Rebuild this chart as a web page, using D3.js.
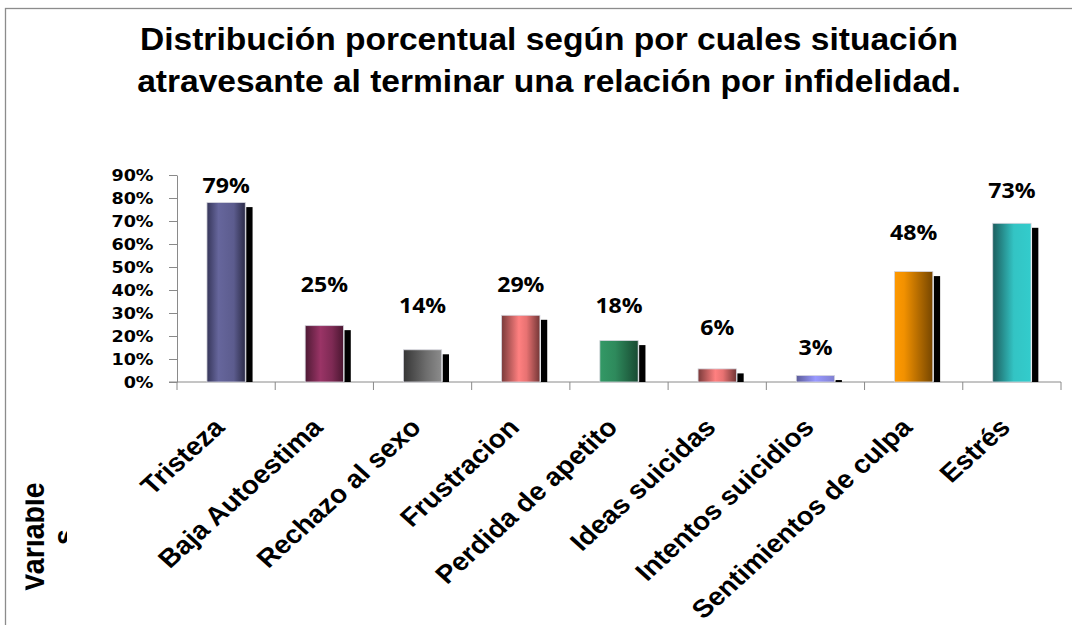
<!DOCTYPE html>
<html>
<head>
<meta charset="utf-8">
<script src="https://cdn.jsdelivr.net/npm/d3@7"></script>
<style>
  html, body { margin: 0; padding: 0; background: #fff; }
  svg { display: block; }
</style>
</head>
<body>
<svg id="chart" width="1072" height="625"></svg>
<script>
// ---- data ----
const categories = ["Tristeza", "Baja Autoestima", "Rechazo al sexo", "Frustracion",
  "Perdida de apetito", "Ideas suicidas", "Intentos suicidios", "Sentimientos de culpa", "Estrés"];
const values = [0.78, 0.245, 0.14, 0.29, 0.18, 0.057, 0.028, 0.48, 0.69];
const valueLabels = ["79%", "25%", "14%", "29%", "18%", "6%", "3%", "48%", "73%"];
const yTicks = [0, 0.1, 0.2, 0.3, 0.4, 0.5, 0.6, 0.7, 0.8, 0.9];
const titleLines = ["Distribución porcentual según por cuales situación",
  "atravesante al terminar una relación por infidelidad."];
const axisTitleLines = ["Variable", "s"];

// ---- layout / styles ----
const labelGaps = [10, 34, 37, 23, 28, 34, 21, 32, 25];   // px between bar top and label baseline
const stretch = 1.1;                                      // horizontal stretch of all texts
const barGradients = [
  [["0", "#36365a"], ["0.3", "#66669c"], ["0.7", "#5c5c8e"], ["1", "#2c2c48"]],
  [["0", "#4e1a34"], ["0.4", "#9a3466"], ["0.7", "#7e2a54"], ["1", "#4a1630"]],
  [["0", "#363636"], ["0.6", "#6e6e6e"], ["1", "#8c8c8c"]],
  [["0", "#7a3a3a"], ["0.45", "#ff8080"], ["0.65", "#e87272"], ["1", "#733636"]],
  [["0", "#339966"], ["0.4", "#2e8a5c"], ["1", "#184a32"]],
  [["0", "#7a3a3a"], ["0.45", "#ff8080"], ["0.65", "#e87272"], ["1", "#733636"]],
  [["0", "#5c5c99"], ["0.5", "#9999ff"], ["1", "#8080d0"]],
  [["0", "#ff9900"], ["0.25", "#f29100"], ["1", "#764600"]],
  [["0", "#1c5e5e"], ["0.55", "#33c4c4"], ["1", "#33cccc"]]
];

const svg = d3.select("#chart");
const defs = svg.append("defs");

barGradients.forEach((stops, i) => {
  const g = defs.append("linearGradient").attr("id", "g" + i)
    .attr("x1", "0").attr("y1", "0").attr("x2", "1").attr("y2", "0");
  stops.forEach(s => g.append("stop").attr("offset", s[0]).attr("stop-color", s[1]));
});

// outer border (open on right/bottom as in the picture)
svg.append("rect").attr("x", 5.5).attr("y", 8.5).attr("width", 1100).attr("height", 700)
  .attr("fill", "none").attr("stroke", "#8c8c8c").attr("stroke-width", 1.3);

// title
svg.append("text").attr("transform", `translate(549,0) scale(${stretch},1)`)
  .attr("text-anchor", "middle")
  .style("font-family", "'Liberation Sans', Arial, sans-serif")
  .style("font-weight", "bold").style("font-size", "30.5px")
  .selectAll("tspan").data(titleLines).join("tspan")
  .attr("x", 0).attr("y", (d, i) => i === 0 ? 50 : 92).text(d => d);

// scales
const x = d3.scaleBand().domain(categories).range([177, 1061])
  .paddingInner(0.61).paddingOuter(0.305);
const y = d3.scaleLinear().domain([0, 0.9]).range([382, 175]);

// y axis
const yAxis = d3.axisLeft(y).tickValues(yTicks).tickFormat(d3.format(".0%"))
  .tickSizeInner(8).tickSizeOuter(0).tickPadding(15);
const yg = svg.append("g").attr("transform", "translate(177,0)").call(yAxis);
yg.select(".domain").attr("stroke", "#8a8a8a");
yg.selectAll(".tick line").attr("stroke", "#8a8a8a");
yg.selectAll(".tick text")
  .attr("x", 0)
  .attr("transform", `translate(-23.5,0) scale(${stretch},1)`)
  .style("font-family", "'DejaVu Sans', Verdana, sans-serif")
  .style("font-weight", "bold").style("font-size", "16px").attr("fill", "#000");

// x axis line and boundary ticks
const step = x.step();
const [x0, x1] = x.range();
svg.append("line").attr("x1", x0 - 8).attr("x2", x1).attr("y1", y(0)).attr("y2", y(0))
  .attr("stroke", "#8a8a8a");
svg.append("g").selectAll("line").data(d3.range(categories.length + 1)).join("line")
  .attr("x1", i => x0 + i * step).attr("x2", i => x0 + i * step)
  .attr("y1", y(0)).attr("y2", y(0) + 8).attr("stroke", "#8a8a8a");

// shadows
svg.append("g").selectAll("rect").data(values).join("rect")
  .attr("x", (d, i) => x(categories[i]) + x.bandwidth() + 1)
  .attr("y", d => y(d) + 4.5)
  .attr("width", 6.3)
  .attr("height", d => Math.max(0, y(0) - y(d) - 4.5))
  .attr("fill", "#000");

// bars
svg.append("g").selectAll("rect").data(values).join("rect")
  .attr("x", (d, i) => x(categories[i]))
  .attr("y", d => y(d))
  .attr("width", x.bandwidth())
  .attr("height", d => y(0) - y(d))
  .attr("fill", (d, i) => `url(#g${i})`)
  .attr("stroke", "#d4d4dc").attr("stroke-width", 0.8);

// value labels
svg.append("g").selectAll("text").data(values).join("text")
  .attr("transform", (d, i) =>
    `translate(${x(categories[i]) + x.bandwidth() / 2},${y(d) - labelGaps[i]}) scale(${stretch},1)`)
  .attr("text-anchor", "middle")
  .style("font-family", "'Open Sans', 'DejaVu Sans', sans-serif")
  .style("font-weight", "bold").style("font-size", "21px")
  .text((d, i) => valueLabels[i]);

// category labels
svg.append("g").selectAll("text").data(categories).join("text")
  .attr("transform", d => `translate(${x(d) + x.bandwidth() / 2},429) scale(${stretch},1) rotate(-45)`)
  .attr("text-anchor", "end")
  .style("font-family", "'Liberation Sans', Arial, sans-serif")
  .style("font-weight", "bold").style("font-size", "25.5px")
  .text(d => d);

// clipped axis title
defs.append("clipPath").attr("id", "titleClip").append("rect")
  .attr("x", 25.5).attr("y", 440).attr("width", 41.5).attr("height", 185);
svg.append("g").attr("clip-path", "url(#titleClip)")
  .append("text").attr("transform", `translate(43.5,537) scale(${stretch},1) rotate(-90)`)
  .attr("text-anchor", "middle")
  .style("font-family", "'Liberation Sans', Arial, sans-serif")
  .style("font-weight", "bold").style("font-size", "28.5px")
  .selectAll("tspan").data(axisTitleLines).join("tspan")
  .attr("x", 0).attr("y", (d, i) => i === 0 ? 0 : 29).text(d => d);
</script>
</body>
</html>
